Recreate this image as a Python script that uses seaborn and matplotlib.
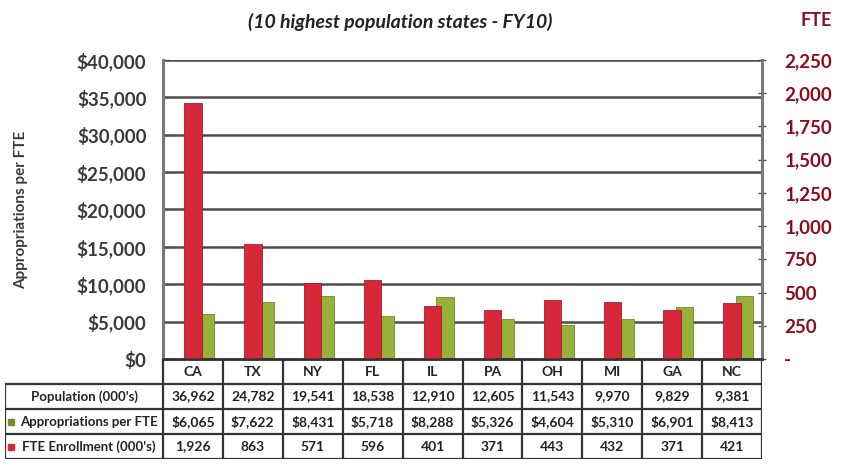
import numpy as np
import matplotlib
matplotlib.use("Agg")
import matplotlib.pyplot as plt
import seaborn as sns

# data
states = ["CA", "TX", "NY", "FL", "IL", "PA", "OH", "MI", "GA", "NC"]
population = [36962, 24782, 19541, 18538, 12910, 12605, 11543, 9970, 9829, 9381]
approp_per_fte = [6065, 7622, 8431, 5718, 8288, 5326, 4604, 5310, 6901, 8413]
fte_enrollment = [1926, 863, 571, 596, 401, 371, 443, 432, 371, 421]

left_ticks = [0, 5000, 10000, 15000, 20000, 25000, 30000, 35000, 40000]
right_ticks = [0, 250, 500, 750, 1000, 1250, 1500, 1750, 2000, 2250]

RED = "#D62839"
GREEN = "#97B13A"
DARK_RED = "#8C0B1E"
GRID = "#4d4d4d"
TEXT = "#3a3a3a"

sns.set_theme(style="white")
plt.rcParams["font.family"] = ["Lato", "DejaVu Sans"]
plt.rcParams["font.weight"] = "bold"

W, H = 847, 465
fig = plt.figure(figsize=(W / 100, H / 100), dpi=100)

x0, x1 = 163, 762
y_top, y_bot = 60, 359
ax = fig.add_axes([x0 / W, 1 - y_bot / H, (x1 - x0) / W, (y_bot - y_top) / H])
ax2 = ax.twinx()

pos = np.arange(len(states))
sns.barplot(x=pos + 0.21, y=approp_per_fte, native_scale=True, width=0.29,
            color=GREEN, saturation=1, errorbar=None, ax=ax,
            edgecolor="#6f8a25", linewidth=0.6)
sns.barplot(x=pos + 0.0, y=fte_enrollment, native_scale=True, width=0.29,
            color=RED, saturation=1, errorbar=None, ax=ax2,
            edgecolor="#a81c2b", linewidth=0.6)

for a in (ax, ax2):
    a.set_xlim(-0.5, len(states) - 0.5)
    a.set_xlabel("")
    a.set_ylabel("")
    a.set_xticks([])

ax.set_ylim(0, 40000)
ax2.set_ylim(0, 2250)

ax.set_axisbelow(True)
for v in left_ticks[1:]:
    ax.axhline(v, color=GRID, lw=1.8, zorder=0)

ax.set_yticks(left_ticks)
ax.set_yticklabels([f"${v:,}" for v in left_ticks], fontsize=13.5,
                   color=TEXT, fontweight="bold")
ax.tick_params(axis="y", direction="in", length=4, width=1, color=GRID, pad=12)

ax2.set_yticks(right_ticks)
ax2.set_yticklabels(["-"] + [f"{v:,}" for v in right_ticks[1:]], fontsize=13.5,
                    color=DARK_RED, fontweight="bold")
ax2.tick_params(axis="y", direction="inout", length=6, width=1, color=GRID, pad=13)

for a in (ax, ax2):
    a.spines["top"].set_visible(False)
    a.spines["left"].set_color("#777777")
    a.spines["left"].set_linewidth(2)
    a.spines["right"].set_color("#777777")
    a.spines["right"].set_linewidth(2)
    a.spines["bottom"].set_color("#333333")
    a.spines["bottom"].set_linewidth(1.8)

ax.set_ylabel("Appropriations per FTE", fontsize=11, fontweight="bold",
              color=TEXT)
ax.yaxis.set_label_coords(-0.225, 0.5)

fig.text(400 / W, 1 - 22 / H, "(10 highest population states - FY10)",
         ha="center", va="center", fontsize=14, fontstyle="italic",
         fontweight="bold", color="#222222")
fig.text(816 / W, 1 - 20 / H, "FTE", ha="center", va="center",
         fontsize=13, fontweight="bold", color=DARK_RED)

# data table under the plot
t_left, t_bot = 5, 459
tax = fig.add_axes([t_left / W, 1 - t_bot / H, (x1 - t_left) / W, (t_bot - y_bot) / H])
unit = (x1 - x0) / len(states)
lx = -0.5 - (x0 - t_left) / unit
tax.set_xlim(lx, len(states) - 0.5)
tax.set_ylim(4, 0)
tax.axis("off")

lc = "#333333"
tax.hlines([1, 2, 3, 4], lx, len(states) - 0.5, color=lc, lw=1.6)
tax.vlines(np.arange(len(states) + 1) - 0.5, 0, 4, color=lc, lw=1.6)
tax.vlines([lx], 1, 4, color=lc, lw=1.6)

rows = [
    [f"{v:,}" for v in population],
    [f"${v:,}" for v in approp_per_fte],
    [f"{v:,}" for v in fte_enrollment],
]
for i, s in enumerate(states):
    tax.text(i, 0.5, s, ha="center", va="center", fontsize=10,
             fontweight="bold", color="#222222")
    for r, vals in enumerate(rows):
        tax.text(i, r + 1.5, vals[i], ha="center", va="center", fontsize=10,
                 fontweight="bold", color="#222222")

label_cx = (lx + (-0.5)) / 2
row_labels = ["Population (000's)", "Appropriations per FTE", "FTE Enrollment (000's)"]
for r, lab in enumerate(row_labels):
    tax.text(label_cx + (0.08 if r else 0), r + 1.5, lab, ha="center", va="center",
             fontsize=9.5, fontweight="bold", color="#222222")
tax.plot([lx + 6 / unit], [2.5], marker="s", ms=5, color="#6f8f2a", ls="none")
tax.plot([lx + 6 / unit], [3.5], marker="s", ms=5, color=RED, ls="none")

fig.savefig("out.png", dpi=100)
